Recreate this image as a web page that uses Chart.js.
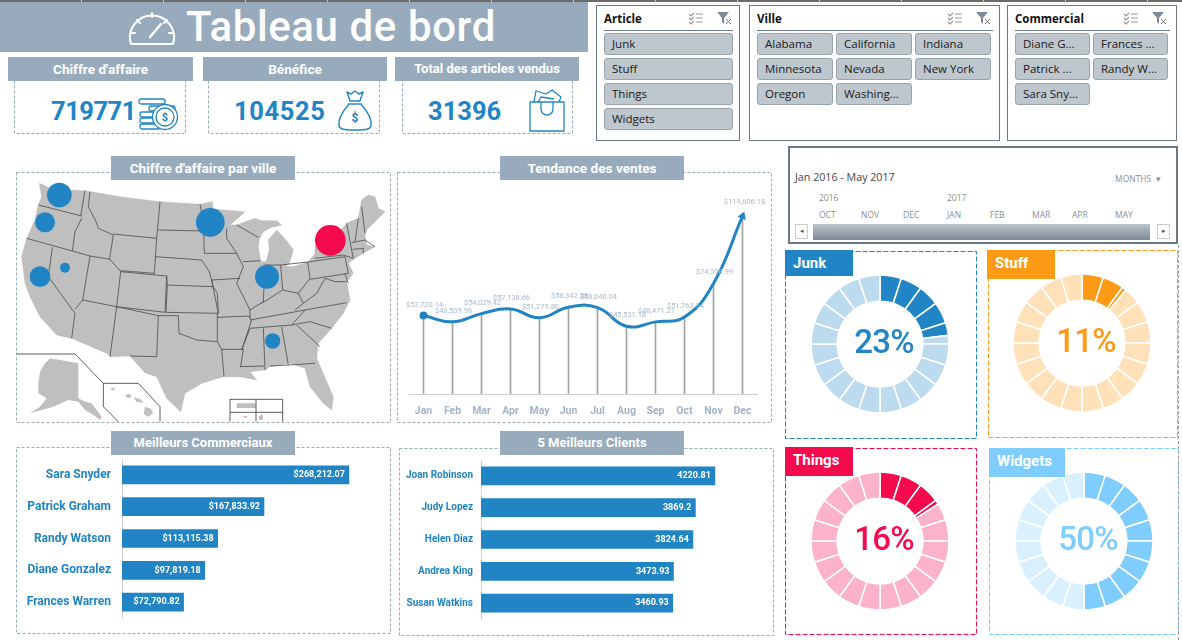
<!DOCTYPE html>
<html>
<head>
<meta charset="utf-8">
<title>Tableau de bord</title>
<script src="https://cdn.jsdelivr.net/npm/chart.js@4"></script>
<style>
html,body{margin:0;padding:0;background:#fff;overflow:hidden}
body{width:1182px;height:640px;position:relative;font-family:Roboto,sans-serif}
.abs,canvas,svg{position:absolute}
.head{position:absolute;z-index:5;background:#98abbd;color:#fff;font-weight:700;font-size:13.6px;text-align:center;height:24px;line-height:24px}
.dash{position:absolute}
.kpi{position:absolute;color:#2185c5;font-weight:700;font-size:25.5px;line-height:30px}
.slicer{position:absolute;border:1px solid #6a7885;box-sizing:border-box;background:#fff}
.slicer b{position:absolute;left:7px;top:5px;font:700 11.5px "Open Sans",sans-serif;color:#111}
.slicer i{position:absolute;left:7px;right:6px;top:24px;height:1px;background:#6a7885}
.btn{position:absolute;background:#bfc7ce;border:1px solid #9aa3ab;border-radius:3px;box-sizing:border-box;height:22px;line-height:20px;padding-left:7px;font:11.5px/20px "Open Sans",sans-serif;color:#1a1a1a;white-space:nowrap;overflow:hidden}
.tab{position:absolute;z-index:5;color:#fff;font-weight:700;font-size:15px;line-height:27px;padding-left:8px;box-sizing:border-box}
.pct{position:absolute;width:100px;text-align:center;font-size:33px;line-height:36px;font-weight:500;letter-spacing:-.8px}
.tl{position:absolute;color:#8a8f94;font:8.5px "Open Sans",sans-serif}
</style>
</head>
<body>
<div class="abs" style="left:0;top:0;width:1182px;height:2px;background:repeating-linear-gradient(90deg,#6b6b6b 0,#6b6b6b 81px,#c8c8c8 81px,#c8c8c8 82px)"></div>

<!-- titre -->
<div class="abs" style="left:0;top:2px;width:588px;height:50px;background:#98abbd"></div>
<svg style="left:128px;top:9px" width="48" height="38" viewBox="0 0 48 38" fill="none" stroke="#fff" stroke-width="2" stroke-linecap="round">
<path d="M3 35 A22 22 0 1 1 45 35 Z"/><path d="M24 4v4M9 11l3 3M39 11l-3 3M3 24h4M45 24h-4"/><path d="M22 28L33 15" stroke-width="2.5"/>
</svg>
<div class="abs" style="left:186px;top:2px;color:#fff;font-size:42px;line-height:50px;font-weight:500;letter-spacing:.6px;white-space:nowrap">Tableau de bord</div>

<!-- indicateurs -->
<div class="head" style="left:8px;top:57px;width:185px">Chiffre d'affaire</div>
<div class="head" style="left:203px;top:57px;width:184px">Bénéfice</div>
<div class="head" style="left:395px;top:57px;width:184px;font-size:13px">Total des articles vendus</div>
<div class="dash" style="left:14px;top:75px;width:171px;height:58px"></div>
<div class="dash" style="left:208px;top:75px;width:171px;height:58px"></div>
<div class="dash" style="left:402px;top:75px;width:170px;height:58px"></div>
<div class="kpi" id="kpi0" style="left:51px;top:96px;letter-spacing:-.5px"></div>
<div class="kpi" id="kpi1" style="left:234px;top:96px;letter-spacing:.6px"></div>
<div class="kpi" id="kpi2" style="left:428px;top:96px"></div>
<svg style="left:138px;top:87px" width="42" height="46" viewBox="0 0 42 46" fill="none" stroke="#2185c5" stroke-width="1.3">
<rect x="1" y="12" width="26" height="5" rx="2"/><rect x="11" y="19" width="26" height="5" rx="2"/><rect x="2" y="25" width="22" height="5" rx="2"/><rect x="2" y="31" width="20" height="5" rx="2"/><rect x="2" y="37" width="20" height="5" rx="2"/>
<circle cx="27" cy="30" r="12.5" fill="#fff"/><circle cx="27" cy="30" r="9"/><text x="27" y="34" text-anchor="middle" font-size="11" font-weight="700" fill="#2185c5" stroke="none">$</text>
</svg>
<svg style="left:336px;top:87px" width="38" height="46" viewBox="0 0 38 46" fill="none" stroke="#2185c5" stroke-width="1.4" stroke-linejoin="round">
<path d="M11 5l4 2 4-3 4 3 4-2-3 9h-10z"/><path d="M12 17h14"/><path d="M13 17C7 24 2 32 3 38c0 4 4 5 16 5s16-1 16-5c1-6-4-14-10-21"/><text x="19" y="35" text-anchor="middle" font-size="12" font-weight="700" fill="#2185c5" stroke="none">$</text>
</svg>
<svg style="left:528px;top:85px" width="38" height="48" viewBox="0 0 38 48" fill="none" stroke="#2185c5" stroke-width="1.3" stroke-linejoin="round">
<path d="M2 17h34v29H2z"/><path d="M13 17v7a6 6 0 0 0 12 0v-7"/><path d="M6 17l2-11 10 3 6-4 9 7-2 5"/><path d="M10 17l3-5 13 2"/>
</svg>

<!-- segments -->
<div class="slicer" style="left:596px;top:5px;width:144px;height:136px"><b>Article</b><i></i></div>
<div class="slicer" style="left:749px;top:5px;width:251px;height:136px"><b>Ville</b><i></i></div>
<div class="slicer" style="left:1007px;top:5px;width:170px;height:136px"><b>Commercial</b><i></i></div>
<div id="slicerBtns"></div>
<svg style="left:688px;top:11px" width="46" height="14" viewBox="0 0 46 14"><g fill="none" stroke="#999" stroke-width="1.2"><path d="M1 3l2 2 3-3M1 7l2 2 3-3M1 11l2 2 3-3M8 3h7M8 7h7M8 11h7"/></g><path d="M29 1h12l-5 6v6l-2-2V7z" fill="#7d8a96"/><path d="M38 8l5 5M43 8l-5 5" stroke="#777" stroke-width="1"/></svg>
<svg style="left:947px;top:11px" width="46" height="14" viewBox="0 0 46 14"><g fill="none" stroke="#999" stroke-width="1.2"><path d="M1 3l2 2 3-3M1 7l2 2 3-3M1 11l2 2 3-3M8 3h7M8 7h7M8 11h7"/></g><path d="M29 1h12l-5 6v6l-2-2V7z" fill="#7d8a96"/><path d="M38 8l5 5M43 8l-5 5" stroke="#777" stroke-width="1"/></svg>
<svg style="left:1123px;top:11px" width="46" height="14" viewBox="0 0 46 14"><g fill="none" stroke="#999" stroke-width="1.2"><path d="M1 3l2 2 3-3M1 7l2 2 3-3M1 11l2 2 3-3M8 3h7M8 7h7M8 11h7"/></g><path d="M29 1h12l-5 6v6l-2-2V7z" fill="#7d8a96"/><path d="M38 8l5 5M43 8l-5 5" stroke="#777" stroke-width="1"/></svg>

<!-- chronologie -->
<div class="abs" style="left:788px;top:146px;width:390px;height:98px;border:2px solid #6a7885;box-sizing:border-box"></div>
<div class="abs" style="left:795px;top:170px;font:10.7px 'Open Sans',sans-serif;color:#444">Jan 2016 - May 2017</div>
<div class="tl" style="left:1115px;top:173px">MONTHS &nbsp;▾</div>
<div class="tl" style="left:819px;top:192px">2016</div>
<div class="tl" style="left:947px;top:192px">2017</div>
<div id="timelineMonths"></div>
<div class="abs" style="left:813px;top:224px;width:337px;height:16px;background:linear-gradient(#bcc4cc,#7d8894)"></div>
<div class="abs" style="left:795px;top:224px;width:13px;height:15px;border:1px solid #ccc;box-sizing:border-box;font-size:7px;line-height:13px;text-align:center;color:#555">◂</div>
<div class="abs" style="left:1157px;top:224px;width:13px;height:15px;border:1px solid #ccc;box-sizing:border-box;font-size:7px;line-height:13px;text-align:center;color:#555">▸</div>

<!-- carte -->
<div class="dash" style="left:16px;top:172px;width:374px;height:250px"></div>
<svg style="left:10px;top:150px" width="385" height="275" viewBox="0 0 1155 825">
<path fill="#bfbfbf" stroke="#a8a8a8" stroke-width="1" d="M88 100L115 112L120 130L130 118L225 122L340 142L450 155L570 163L607 155L610 178L640 180L705 185L660 225L680 225L735 205L755 212L800 212L815 225L785 232L760 245L748 268L745 290L752 335L768 335L778 300L775 270L800 240L830 272L850 300L838 340L826 348L850 350L893 336L915 312L915 288L945 262L985 250L1010 220L1045 205L1055 150L1075 135L1095 140L1105 175L1125 185L1095 215L1070 240L1065 255L1070 285L1095 290L1062 308L1035 325L1015 340L1030 370L1010 395L1020 450L1000 490L965 535L925 580L920 625L970 740L965 780L940 760L900 710L885 655L840 640L780 650L765 660L720 665L740 690L690 680L640 680L575 700L525 730L512 785L470 745L440 680L405 668L360 618L300 620L295 612L185 565L140 555L90 500L60 440L45 400L35 320L50 265L75 210L85 165L95 140Z"/>
<path fill="none" stroke="#4a4a4a" stroke-width="2.4" stroke-linejoin="round" d="M85 165L125 175L215 198M225 122L212 198M215 205L195 245L187 303M50 265L187 303M127 292L115 380L195 490L185 565M187 303L240 318L218 450L195 478M240 125L235 170L258 215L265 235L310 255L298 330M240 318L300 328L332 365L320 470M310 252L440 265L450 155M440 265L433 370L332 362M320 470L300 620M218 450L320 470L445 497L440 620L360 618M332 365L470 378L465 487L320 470M437 320L575 330L598 365M470 378L472 405L610 410L598 365M445 240L583 243M570 163L580 215L583 310L680 310M472 405L468 487L625 490L622 430L610 410M445 497L505 497L507 550L560 570L622 575L622 490M622 575L635 598L642 680M635 598L700 598L692 650M622 502L715 498L725 510L695 600M690 650L762 648M720 535L695 600M760 535L765 660M815 530L835 645M780 648L835 645L915 640M720 510L885 480L1010 458M720 535L845 525L885 480M860 525L930 590M845 525L900 515L965 535M605 390L690 385M680 310L700 350L680 400L720 480L720 505M605 390L625 490M700 335L752 332M765 345L760 455L720 480M765 345L812 345L818 420L755 460M812 345L893 336L900 385L865 430L818 420M865 430L880 460L855 480M880 460L920 430L945 385L975 395L1010 395M893 336L1005 320L1015 370L900 388M915 325L1000 315L1030 325M1010 220L1025 300L1030 325M1045 205L1035 275M1055 170L1065 250M1025 278L1065 270L1095 290M1028 298L1060 295L1060 310M1005 370L1015 400M650 235L650 265L680 310M680 225L745 262"/>
<path fill="#bfbfbf" d="M90 665L105 640L120 625L150 630L205 640L205 745L225 755L245 760L275 800L270 810L250 795L225 780L205 755L175 750L130 770L60 790L90 770L110 745L85 730L85 700ZM345 735l14-4 6 10-12 4zM370 742l22 6 8 10-20-2zM405 770l18 6 6 14-14 10-14-8zM300 716l16-4-6 10zM680 760h55l3 14h-58zM695 800l18-3-6 8zM745 800l12-8 3 16-10 4z"/>
<path fill="none" stroke="#333" stroke-width="2.4" d="M20 612H195L280 700V770L325 815M280 700H385L450 770V815M660 815V748H818V815M660 787H818M738 748V815"/>
</svg>
<canvas id="mapChart" style="left:10px;top:150px" width="385" height="275"></canvas>
<div class="head" style="left:111px;top:156px;width:184px">Chiffre d'affaire par ville</div>

<!-- tendance -->
<div class="dash" style="left:397px;top:172px;width:374px;height:250px"></div>
<canvas id="lineChart" style="left:398px;top:172px" width="374" height="250"></canvas>
<div class="head" style="left:500px;top:156px;width:184px">Tendance des ventes</div>

<!-- classements -->
<div class="dash" style="left:16px;top:447px;width:374px;height:186px"></div>
<canvas id="repChart" style="left:16px;top:447px" width="374" height="186"></canvas>
<div class="head" style="left:111px;top:431px;width:184px;font-size:13px">Meilleurs Commerciaux</div>
<div class="dash" style="left:399px;top:448px;width:374px;height:187px"></div>
<canvas id="clientChart" style="left:399px;top:448px" width="374" height="186"></canvas>
<div class="head" style="left:500px;top:431px;width:184px;font-size:13px">5 Meilleurs Clients</div>

<!-- articles -->
<div class="dash" data-c="#2185c5" style="left:785px;top:251px;width:191px;height:187px"></div>
<div class="dash" data-c="#ff9a17" style="left:988px;top:250px;width:189px;height:187px"></div>
<div class="dash" data-c="#f50a4e" style="left:785px;top:448px;width:191px;height:186px"></div>
<div class="dash" data-c="#7fcdff" style="left:989px;top:448px;width:189px;height:186px"></div>
<div class="abs" style="left:1178px;top:245px;height:395px;border-left:1px dashed #9a9a9a"></div>
<div id="rings"></div>

<script>
var kpiValues = [719771, 104525, 31396];

var articleSlicer = ['Junk', 'Stuff', 'Things', 'Widgets'];
var villeSlicer = ['Alabama', 'California', 'Indiana', 'Minnesota', 'Nevada', 'New York', 'Oregon', 'Washing...'];
var commercialSlicer = ['Diane G...', 'Frances ...', 'Patrick ...', 'Randy W...', 'Sara Sny...'];
var timelineMonths = ['OCT', 'NOV', 'DEC', 'JAN', 'FEB', 'MAR', 'APR', 'MAY'];

// carte : position des villes sur le fond de carte, CA estime
var cityNames = ['Washington', 'Oregon', 'California', 'Nevada', 'Minnesota', 'Indiana', 'New York', 'Alabama'];
var cityMapX = [148, 105, 90, 165, 601, 771, 961, 788];
var cityMapY = [135, 217, 380, 353, 217, 380, 271, 573];
var cityRevenue = [106600, 70100, 74800, 17500, 144000, 100900, 164700, 41200];

var months = ['Jan', 'Feb', 'Mar', 'Apr', 'May', 'Jun', 'Jul', 'Aug', 'Sep', 'Oct', 'Nov', 'Dec'];
var monthlySales = [52720.14, 48539.98, 54029.42, 57138.66, 51279.80, 58342.58, 58040.04, 45531.18, 48471.21, 51762.34, 74308.99, 119606.18];

var repNames = ['Sara Snyder', 'Patrick Graham', 'Randy Watson', 'Diane Gonzalez', 'Frances Warren'];
var repSales = [268212.07, 167833.92, 113115.38, 97819.18, 72790.82];

var clientNames = ['Joan Robinson', 'Judy Lopez', 'Helen Diaz', 'Andrea King', 'Susan Watkins'];
var clientSales = [4220.81, 3869.2, 3824.64, 3473.93, 3460.93];

var ringNames = ['Junk', 'Stuff', 'Things', 'Widgets'];
var ringPercent = [23, 11, 16, 50];
var ringDark = ['#2185c5', '#ff9a17', '#f50a4e', '#7fcdff'];
var ringLight = ['#bddbef', '#ffe1b9', '#fcb3ca', '#d9f0ff'];
var ringCenterX = [880, 1082, 880, 1084];
var ringCenterY = [344, 343, 541, 541];
var tabLeft = [785, 987, 785, 989];
var tabTop = [250, 250, 447, 448];
var tabWidth = [68, 68, 68, 76];
var tabHeight = [26, 29, 29, 29];

var RING_SEGMENTS = 20;
var BLUE = '#2185c5';

Chart.defaults.animation = false;
Chart.defaults.responsive = false;
Chart.defaults.plugins.legend.display = false;
Chart.defaults.plugins.tooltip.enabled = false;

function money(v) {
	return '$' + v.toLocaleString('en-US', {minimumFractionDigits: 2, maximumFractionDigits: 2});
}

// cadres en pointilles longs (border:dashed est trop serre)
var boxes = document.querySelectorAll('.dash');
for (var b = 0; b < boxes.length; b++) {
	var el = boxes[b];
	var w = parseInt(el.style.width), h = parseInt(el.style.height);
	var col = el.getAttribute('data-c');
	el.innerHTML = '<svg style="left:0;top:0;overflow:visible" width="' + w + '" height="' + h + '"><rect x=".5" y=".5" width="' + w + '" height="' + h + '" fill="none" stroke="' + (col || '#98abbd') + '" stroke-dasharray="' + (col ? '5 2' : '3 2') + '"/></svg>';
}

// petits elements html
function addDiv(parent, cls, text, left, top, width) {
	var d = document.createElement('div');
	d.className = cls;
	d.textContent = text;
	d.style.left = left + 'px';
	d.style.top = top + 'px';
	if (width) d.style.width = width + 'px';
	document.getElementById(parent).appendChild(d);
	return d;
}

for (var i = 0; i < kpiValues.length; i++) {
	document.getElementById('kpi' + i).textContent = kpiValues[i];
}
for (var i in articleSlicer) addDiv('slicerBtns', 'btn', articleSlicer[i], 604, 33 + 25 * i, 129);
var villeCols = [757, 836, 915];
for (var i in villeSlicer) addDiv('slicerBtns', 'btn', villeSlicer[i], villeCols[i % 3], 33 + 25 * Math.floor(i / 3), 76);
var comCols = [1015, 1093];
for (var i in commercialSlicer) addDiv('slicerBtns', 'btn', commercialSlicer[i], comCols[i % 2], 33 + 25 * Math.floor(i / 2), 75);
var monthLeft = [819, 861, 903, 947, 990, 1032, 1072, 1115];
for (var i in timelineMonths) addDiv('timelineMonths', 'tl', timelineMonths[i], monthLeft[i], 209);

// carte
new Chart(document.getElementById('mapChart'), {
	type: 'bubble',
	data: {
		datasets: [{
			label: "Chiffre d'affaire",
			data: cityNames.map(function(n, i) {
				return {x: cityMapX[i], y: cityMapY[i], r: Math.sqrt(cityRevenue[i]) * 0.0378};
			}),
			backgroundColor: cityRevenue.map(function(v) {
				return v == Math.max.apply(null, cityRevenue) ? '#f50a4e' : BLUE;
			}),
			borderWidth: 0
		}]
	},
	options: {
		layout: {padding: 0, autoPadding: false},
		scales: {
			x: {display: false, min: 0, max: 1155},
			y: {display: false, min: 0, max: 825, reverse: true}
		}
	}
});

// etiquettes de la courbe
var lineLabels = {
	id: 'lineLabels',
	afterDatasetsDraw: function(chart) {
		var ctx = chart.ctx;
		var meta = chart.getDatasetMeta(0);
		ctx.save();
		ctx.font = '7.5px Roboto';
		ctx.fillStyle = '#a9bacb';
		ctx.textAlign = 'center';
		meta.data.forEach(function(pt, i) {
			ctx.fillText(money(monthlySales[i]), pt.x + (i == 11 ? 2 : 1), pt.y - (i == 11 ? 12 : 9));
		});
		ctx.restore();
	}
};

new Chart(document.getElementById('lineChart'), {
	type: 'bar',
	data: {
		labels: months,
		datasets: [
			{
				type: 'line',
				label: 'Ventes',
				data: monthlySales,
				borderColor: BLUE,
				borderWidth: 3,
				tension: 0.45,
				order: 1,
				clip: false,
				pointStyle: monthlySales.map(function(v, i) { return i == 11 ? 'triangle' : 'circle'; }),
				pointRadius: monthlySales.map(function(v, i) { return i == 0 ? 4 : (i == 11 ? 5 : 0); }),
				pointRotation: monthlySales.map(function(v, i) { return i == 11 ? 22 : 0; }),
				pointBackgroundColor: BLUE,
				pointBorderColor: BLUE,
				pointBorderWidth: 0
			},
			{
				label: 'Projection',
				data: monthlySales,
				backgroundColor: '#a3a3a3',
				barThickness: 1,
				order: 2
			}
		]
	},
	options: {
		layout: {padding: {left: 11, right: 15, top: 36, bottom: 0}, autoPadding: false},
		scales: {
			x: {
				grid: {display: false},
				border: {color: '#cfcfcf'},
				ticks: {color: '#a4b4c6', font: {family: 'Roboto', size: 10.5, weight: '700'}, autoSkip: false, maxRotation: 0, padding: 3},
				afterFit: function(s) { s.height = 28; }
			},
			y: {display: false, min: 0, max: 125000}
		}
	},
	plugins: [lineLabels]
});

// barres horizontales
function barChart(id, names, values, axisWidth, xMax, labelFn, nameSize, tickPad) {
	return new Chart(document.getElementById(id), {
		type: 'bar',
		data: {
			labels: names,
			datasets: [{data: values, backgroundColor: BLUE, barThickness: 18}]
		},
		options: {
			indexAxis: 'y',
			layout: {padding: {top: 12, bottom: 15, left: 0, right: 0}, autoPadding: false},
			scales: {
				x: {display: false, min: 0, max: xMax},
				y: {
					grid: {display: false},
					border: {color: '#d4d4d4'},
					ticks: {color: BLUE, padding: tickPad, font: {family: 'Roboto', size: nameSize, weight: '700'}},
					afterFit: function(s) { s.width = axisWidth; s.paddingTop = 0; s.paddingBottom = 0; }
				}
			}
		},
		plugins: [{
			id: 'barLabels',
			afterDatasetsDraw: function(chart) {
				var ctx = chart.ctx;
				ctx.save();
				ctx.font = '700 9px Roboto';
				ctx.fillStyle = '#fff';
				ctx.textAlign = 'right';
				ctx.textBaseline = 'middle';
				chart.getDatasetMeta(0).data.forEach(function(bar, i) {
					ctx.fillText(labelFn(values[i]), bar.x - 4, bar.y);
				});
				ctx.restore();
			}
		}]
	});
}

barChart('repChart', repNames, repSales, 106, 316800, money, 12, 3);
barChart('clientChart', clientNames, clientSales, 82, 5270, function(v) { return String(v); }, 10, 0);

// anneaux : chaque segment est coupe a la limite du pourcentage
function ringData(percent) {
	var filled = percent / 100 * RING_SEGMENTS;
	var arcs = [];
	for (var s = 0; s < RING_SEGMENTS; s++) {
		var part = Math.max(0, Math.min(1, filled - s));
		if (part > 0) arcs.push({v: part, dark: true});
		if (part < 1) arcs.push({v: 1 - part, dark: false});
	}
	return arcs;
}

ringNames.forEach(function(name, i) {
	var tab = addDiv('rings', 'tab', name, tabLeft[i], tabTop[i], tabWidth[i]);
	tab.style.height = tabHeight[i] + 'px';
	tab.style.background = ringDark[i];

	var c = document.createElement('canvas');
	c.width = 140;
	c.height = 140;
	c.style.left = (ringCenterX[i] - 70) + 'px';
	c.style.top = (ringCenterY[i] - 70) + 'px';
	document.getElementById('rings').appendChild(c);

	var arcs = ringData(ringPercent[i]);
	new Chart(c, {
		type: 'doughnut',
		data: {
			labels: arcs.map(function(a) { return name; }),
			datasets: [{
				data: arcs.map(function(a) { return a.v; }),
				backgroundColor: arcs.map(function(a) { return a.dark ? ringDark[i] : ringLight[i]; }),
				borderColor: '#fff',
				borderWidth: 1.6
			}]
		},
		options: {cutout: '62%', radius: 69}
	});

	var p = addDiv('rings', 'pct', ringPercent[i] + '%', ringCenterX[i] - 46, ringCenterY[i] - 20);
	p.style.color = ringDark[i];
});
</script>
</body>
</html>
